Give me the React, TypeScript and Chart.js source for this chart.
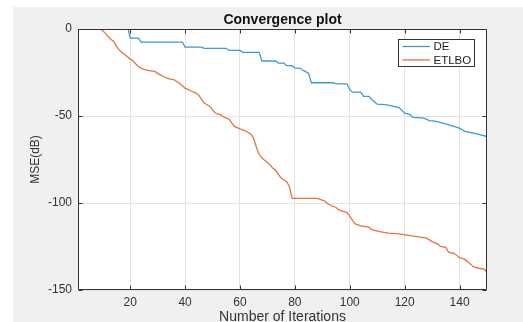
import React, { useEffect, useRef } from "react";
import { Chart, registerables } from "chart.js";

Chart.register(...registerables);

const seriesLabels = ["DE", "ETLBO"];

const iterationsDE = [1, 19, 20, 23, 24, 39, 40, 46, 47, 55, 56, 60, 61, 67, 68, 73, 74, 76, 77, 79, 80, 82, 83, 84, 85, 86, 94, 95, 99, 100, 101, 104, 105, 107, 108, 110, 113, 116, 118, 120, 122, 123, 127, 129, 131, 134, 137, 140, 142, 145, 147, 150];
const valuesDE = [2, 2, -5.2, -5.2, -7.5, -7.5, -10.4, -10.4, -11.1, -11.1, -12.3, -12.3, -13.4, -13.4, -18.4, -18.4, -19.6, -19.6, -21.1, -21.1, -22.4, -22.6, -23.8, -24.5, -25.5, -30.9, -30.9, -31.5, -31.5, -34.9, -36.3, -36.3, -38.7, -38.7, -40.5, -43.2, -43.5, -44.5, -45.2, -48.4, -49.2, -50.8, -51.2, -52.6, -53, -54.1, -55.6, -57, -58.9, -59.8, -60.5, -61.8];

const iterationsETLBO = [1, 8, 9, 10, 11, 12, 13, 14, 15, 16, 17, 18, 19, 20, 21, 22, 23, 24, 25, 27, 29, 30, 32, 34, 36, 38, 40, 42, 44, 45, 46, 47, 49, 50, 51, 53, 54, 56, 57, 58, 60, 62, 64, 65, 66, 67, 68, 70, 71, 72, 73, 74, 75, 77, 78, 79, 88, 89, 91, 92, 93, 95, 96, 99, 100, 101, 102, 104, 107, 108, 111, 114, 118, 122, 128, 130, 132, 133, 135, 136, 138, 140, 142, 143, 145, 147, 149, 150];
const valuesETLBO = [10, 2, 0, -1, -2.5, -4.5, -6, -7, -10, -12, -13.5, -14.5, -16, -17.3, -18.2, -20, -21.5, -22.6, -23.2, -23.9, -24.4, -25.5, -27.3, -28.5, -29.2, -31.2, -34, -35.5, -36.8, -38, -40.5, -42.5, -44.5, -46.5, -48.3, -49.3, -50.6, -51.8, -54, -56, -57.4, -58.5, -60.5, -63, -68, -72, -74.2, -76.7, -78.1, -80, -81.2, -83.5, -85.7, -87.7, -90.5, -97.3, -97.3, -97.8, -99, -100.5, -101.3, -102.6, -104, -105.5, -107.5, -110, -112, -113.2, -113.9, -115.3, -116.4, -117.3, -117.8, -118.7, -120.2, -122.2, -123.5, -125, -125.5, -128.3, -128.9, -131.4, -132.4, -133.7, -136.6, -137.5, -138, -140];

const xTicks = [20, 40, 60, 80, 100, 120, 140];
const yTicks = [-150, -100, -50, 0];

const colors = ["#3f98d6", "#e5733f"];
const FONT = "'Liberation Sans', Arial, Helvetica, sans-serif";

const framePlugin = {
  id: "matlabFrame",
  beforeDraw(chart: any) {
    const { ctx, width, height, chartArea } = chart;
    ctx.save();
    ctx.fillStyle = "#ffffff";
    ctx.fillRect(0, 0, width, height);
    ctx.fillStyle = "#f0f0f0";
    ctx.fillRect(13, 7, width - 13, height - 7);
    ctx.fillStyle = "#ffffff";
    ctx.fillRect(chartArea.left, chartArea.top, chartArea.right - chartArea.left, chartArea.bottom - chartArea.top);
    ctx.restore();
  },
  afterDraw(chart: any) {
    const { ctx, chartArea } = chart;
    const { left, right, top, bottom } = chartArea;
    const xs = chart.scales.x;
    const ys = chart.scales.y;
    ctx.save();
    ctx.strokeStyle = "#333333";
    ctx.lineWidth = 1;
    const L = Math.round(left) + 0.5;
    const R = Math.round(right) - 0.5;
    const T = Math.round(top) + 0.5;
    const B = Math.round(bottom) - 0.5;
    ctx.beginPath();
    ctx.rect(L, T, R - L, B - T);
    ctx.stroke();
    ctx.beginPath();
    xTicks.forEach((v) => {
      const px = Math.round(xs.getPixelForValue(v)) + 0.5;
      ctx.moveTo(px, B);
      ctx.lineTo(px, B - 4);
      ctx.moveTo(px, T);
      ctx.lineTo(px, T + 4);
    });
    yTicks.forEach((v) => {
      const py = Math.round(ys.getPixelForValue(v)) + 0.5;
      ctx.moveTo(L, py);
      ctx.lineTo(L + 4, py);
      ctx.moveTo(R, py);
      ctx.lineTo(R - 4, py);
    });
    ctx.stroke();

    // legend box
    const bx = Math.round(right - 89) + 0.5;
    const by = Math.round(top + 10) + 0.5;
    const bw = 76;
    const bh = 27;
    ctx.fillStyle = "#ffffff";
    ctx.fillRect(bx, by, bw, bh);
    ctx.strokeStyle = "#333333";
    ctx.strokeRect(bx, by, bw, bh);
    ctx.font = `11.5px ${FONT}`;
    ctx.textBaseline = "middle";
    ctx.textAlign = "left";
    chart.data.datasets.forEach((ds: any, i: number) => {
      const ly = by + 7 + i * 13.4;
      ctx.strokeStyle = ds.borderColor;
      ctx.lineWidth = 1.3;
      ctx.beginPath();
      ctx.moveTo(bx + 4, ly);
      ctx.lineTo(bx + 31.5, ly);
      ctx.stroke();
      ctx.fillStyle = "#1a1a1a";
      ctx.fillText(ds.label, bx + 35, ly + 0.5);
    });
    ctx.restore();
  },
};

export default function App() {
  const ref = useRef<HTMLCanvasElement | null>(null);

  useEffect(() => {
    if (!ref.current) return;
    const dataDE = iterationsDE.map((x, i) => ({ x, y: valuesDE[i] }));
    const dataETLBO = iterationsETLBO.map((x, i) => ({ x, y: valuesETLBO[i] }));
    const chart = new Chart(ref.current, {
      type: "line",
      data: {
        datasets: [
          { label: seriesLabels[0], data: dataDE, borderColor: colors[0], backgroundColor: colors[0], borderWidth: 1.3, pointRadius: 0, tension: 0, clip: 0 },
          { label: seriesLabels[1], data: dataETLBO, borderColor: colors[1], backgroundColor: colors[1], borderWidth: 1.3, pointRadius: 0, tension: 0, clip: 0 },
        ],
      },
      options: {
        animation: false,
        responsive: false,
        devicePixelRatio: 1,
        layout: { padding: { left: 0, right: 36, top: 0, bottom: 0 } },
        plugins: {
          legend: { display: false },
          tooltip: { enabled: false },
          title: {
            display: true,
            text: "Convergence plot",
            fullSize: false,
            color: "#111111",
            font: { family: FONT, size: 14, weight: "bold" },
            padding: { top: 11.6, bottom: 0.6 },
          },
        },
        scales: {
          x: {
            type: "linear",
            min: 1,
            max: 150,
            afterFit: (s: any) => { s.height = 32; },
            afterBuildTicks: (s: any) => { s.ticks = xTicks.map((v) => ({ value: v })); },
            ticks: { includeBounds: false, stepSize: 20, color: "#333333", padding: 5, maxRotation: 0, font: { family: FONT, size: 12 } },
            grid: { color: "#e2e2e2", drawTicks: false },
            border: { display: false },
            title: { display: true, text: "Number of Iterations", color: "#333333", font: { family: FONT, size: 14 }, padding: { top: 0, bottom: -3.5 } },
          },
          y: {
            type: "linear",
            min: -150,
            max: 0,
            afterFit: (s: any) => { s.width = 78; },
            afterBuildTicks: (s: any) => { s.ticks = yTicks.map((v) => ({ value: v })); },
            ticks: { stepSize: 50, color: "#333333", padding: 6, font: { family: FONT, size: 12 } },
            grid: { color: "#e2e2e2", drawTicks: false },
            border: { display: false },
            title: { display: true, text: "MSE(dB)", color: "#333333", font: { family: FONT, size: 12 }, padding: { top: 28, bottom: 0 } },
          },
        },
      },
      plugins: [framePlugin],
    } as any);
    return () => chart.destroy();
  }, []);

  return (
    <div style={{ position: "fixed", left: 0, top: 0, width: 523, height: 322, overflow: "hidden" }}>
      <canvas ref={ref} width={523} height={322} style={{ width: 523, height: 322, display: "block" }} />
    </div>
  );
}
